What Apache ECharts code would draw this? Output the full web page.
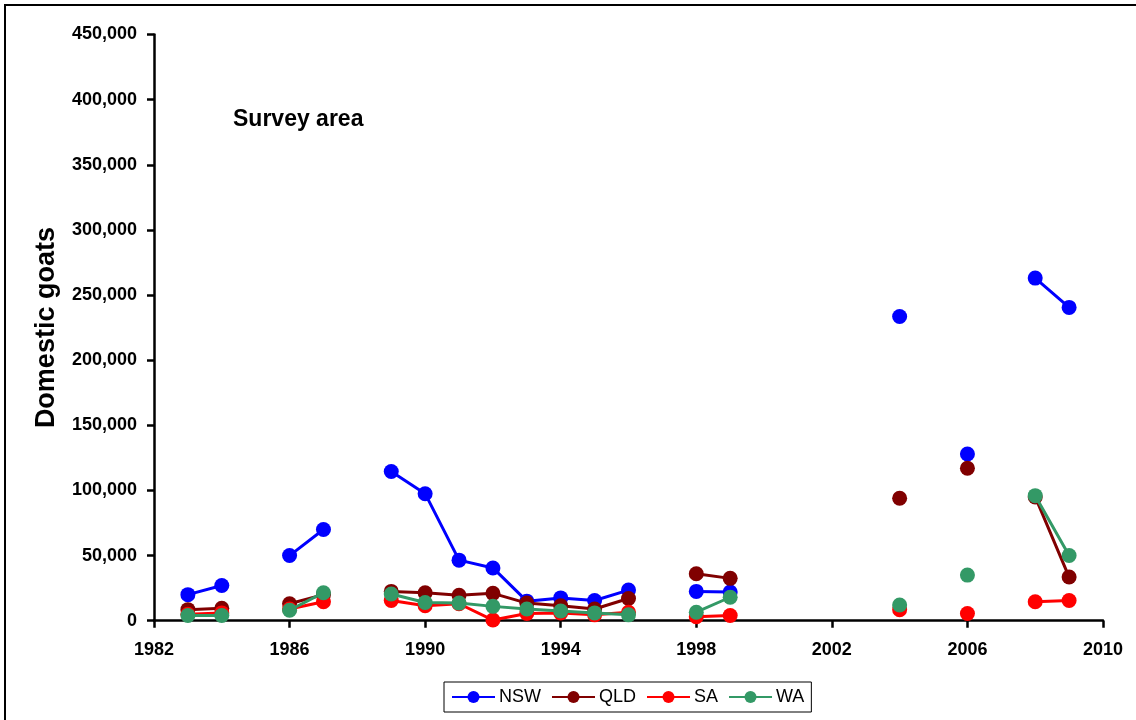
<!DOCTYPE html>
<html>
<head>
<meta charset="utf-8">
<script src="https://cdn.jsdelivr.net/npm/echarts@6/dist/echarts.min.js"></script>
<style>html,body{margin:0;padding:0;background:#fff}#c{width:1136px;height:720px}</style>
</head>
<body>
<div id="c"></div>
<script>
const years = [1983,1984,1985,1986,1987,1988,1989,1990,1991,1992,1993,1994,1995,1996,1997,1998,1999,2000,2001,2002,2003,2004,2005,2006,2007,2008,2009];
const nsw = [20000,27000,null,50000,70000,null,114500,97500,46500,40500,15000,17500,15500,23500,null,22500,22000,null,null,null,null,233500,null,128000,null,263000,240500];
const qld = [8500,9500,null,13000,20000,null,22500,21500,19500,21000,13500,11500,9000,17000,null,36000,32500,null,null,null,null,94000,null,117000,null,95000,33500];
const sa  = [5000,6000,null,9000,14500,null,15500,11500,13000,500,5500,6000,4500,6500,null,3000,4000,null,null,null,null,8500,null,5500,null,14500,15500];
const wa  = [4000,4000,null,8000,21500,null,20500,14000,13500,11000,9000,7500,6000,4500,null,6500,18000,null,null,null,null,12000,null,35000,null,96000,50000];
const seriesNames = ['NSW','QLD','SA','WA'];
const seriesValues = [nsw, qld, sa, wa];
const colors = ['#0000FF','#800000','#FF0000','#339966'];

const font = '"Liberation Sans", Arial, sans-serif';
const chart = echarts.init(document.getElementById('c'));
chart.setOption({
  animation: false,
  backgroundColor: '#fff',
  graphic: [
    {type:'rect', shape:{x:5, y:5, width:1200, height:800}, style:{fill:'none', stroke:'#000', lineWidth:2}, silent:true},
    {type:'text', left:233, top:108, style:{text:'Survey area', font:'bold 23px ' + font, fill:'#000'}}
  ],
  grid: {left:154, right:33, top:34.5, bottom:99.3, containLabel:false},
  legend: {
    left: 444, top: 682,
    itemWidth: 43, itemHeight: 15, itemGap: 10,
    padding: [6, 7, 6, 7],
    borderColor: '#000', borderWidth: 1,
    textStyle: {fontFamily: font, fontSize: 18, color:'#000', padding:[0,0,0,-1]},
    data: seriesNames
  },
  xAxis: {
    type: 'value', min: 1982, max: 2010, interval: 4,
    axisLine: {lineStyle:{color:'#000', width:2.5}},
    axisTick: {show:true, length:7, lineStyle:{color:'#000', width:2.5}},
    axisLabel: {margin: 20, fontFamily: font, fontWeight:'bold', fontSize:18, color:'#000', formatter: v => String(v)},
    splitLine: {show:false}
  },
  yAxis: {
    type: 'value', min: 0, max: 450000, interval: 50000,
    name: 'Domestic goats', nameLocation: 'middle', nameGap: 94,
    nameTextStyle: {fontFamily: font, fontWeight:'bold', fontSize:27, color:'#000'},
    axisLine: {show:true, lineStyle:{color:'#000', width:2.5}},
    axisTick: {show:true, length:7, lineStyle:{color:'#000', width:2.5}},
    axisLabel: {margin: 17, fontFamily: font, fontWeight:'bold', fontSize:18, color:'#000',
      formatter: v => v.toLocaleString('en-US')},
    splitLine: {show:false}
  },
  series: seriesNames.map((n, i) => ({
    name: n, type: 'line',
    data: years.map((y, j) => [y, seriesValues[i][j] === null ? '-' : seriesValues[i][j]]),
    connectNulls: false,
    symbol: 'circle', symbolSize: 15,
    lineStyle: {color: colors[i], width: 3},
    itemStyle: {color: colors[i]},
    z: 2 + i
  }))
});
</script>
</body>
</html>
